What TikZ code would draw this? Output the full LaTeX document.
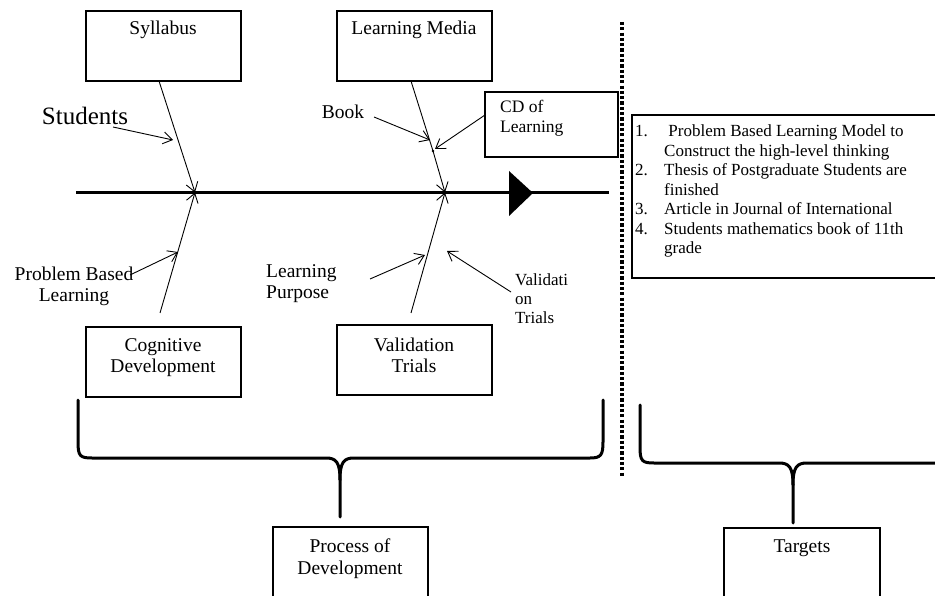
\documentclass[tikz,border=0pt]{standalone}
\usepackage{fontspec}
\setmainfont{Liberation Serif}
\usetikzlibrary{arrows.meta}
\begin{document}
\begin{tikzpicture}[x=1pt,y=-1pt,
  box/.style={draw, line width=1.1pt, inner sep=0pt},
  lbl/.style={font=\fontsize{19.5}{21}\selectfont, inner sep=0pt, align=center},
  small/.style={font=\fontsize{17}{19}\selectfont, inner sep=0pt, align=left},
  barb/.style={line width=0.9pt, -{Straight Barb[length=9pt,width=12pt,line width=0.9pt]}},
  spine/.style={line width=2.5pt},
  brace/.style={line width=3pt, line cap=round, line join=round},
  dotline/.style={line width=3.2pt, dash pattern=on 3.2pt off 2.1pt}]
\useasboundingbox (0,0) rectangle (935,596);
% ---------- boxes ----------
\node[box, minimum width=155pt, minimum height=70pt] (syl) at (163.5,46) {};
\node[lbl] (sylt) at (163,30) {Syllabus};
\node[box, minimum width=155pt, minimum height=70pt] (lm) at (414.5,46) {};
\node[lbl] (lmt) at (414,30) {Learning Media};
\node[box, minimum width=133pt, minimum height=65pt] (cd) at (551.5,124.5) {};
\node[lbl, align=left, anchor=west, font=\fontsize{17.5}{20}\selectfont] (cdt) at (500,118) {CD of\\Learning};
\node[box, minimum width=155pt, minimum height=70pt] (cog) at (163.5,362) {};
\node[lbl] (cogt) at (163,357.5) {Cognitive\\Development};
\node[box, minimum width=155pt, minimum height=70pt] (val) at (414.5,360) {};
\node[lbl] (valt) at (414,355) {Validation\\Trials};
\node[box, minimum width=155pt, minimum height=90pt] (proc) at (350.5,572) {};
\node[lbl, font=\fontsize{19.5}{22}\selectfont] (proct) at (350,559) {Process of\\Development};
\node[box, minimum width=156pt, minimum height=90pt] (targ) at (802,573) {};
\node[lbl] (targt) at (802,548) {Targets};
\node[box, minimum width=313pt, minimum height=163pt] (lst) at (788.5,196.5) {};
\node[anchor=north west, inner sep=0pt, font=\fontsize{17}{19.5}\selectfont] (lstt) at (635,123)
 {\begin{tabular}{@{}p{29pt}@{}l@{}}
 1. & \ Problem Based Learning Model to\\
    & Construct the high-level thinking\\
 2. & Thesis of Postgraduate Students are\\
    & finished\\
 3. & Article in Journal of International\\
 4. & Students mathematics book of 11th\\
    & grade
 \end{tabular}};
% ---------- free labels ----------
\node[lbl, font=\fontsize{25}{27}\selectfont] (stu) at (85,116) {Students};
\node[lbl] (book) at (343,112) {Book};
\node[lbl] (pbl) at (74,286) {Problem Based\\Learning};
\node[lbl, align=left, anchor=west] (lp) at (266,284) {Learning\\Purpose};
\node[small, anchor=west] (vt) at (515,298.5) {Validati\\on\\Trials};
% ---------- spine ----------
\coordinate (sp0) at (76,192.5);
\coordinate (sp1) at (609,192.5);
\draw[spine] (sp0) -- (sp1);
\fill (509,171) -- (533,193) -- (509,216) -- cycle;
\coordinate (j1) at (195,192.5);
\coordinate (j2) at (445,192.5);
% ---------- branches ----------
\coordinate (sylb) at (159,81);
\coordinate (lmb) at (411,81);
\coordinate (cogb) at (160,313);
\coordinate (valb) at (411,313);
\coordinate (dt) at (433,151);
\draw[barb] (sylb) -- (j1);
\draw[barb] (cogb) -- (j1);
\draw[barb] (lmb) -- (dt) -- (j2);
\fill (dt) circle (1.3pt);
\draw[barb] (valb) -- (j2);
% ---------- sub causes ----------
\coordinate (stu1) at (113,127);
\coordinate (stu2) at (173,140);
\draw[barb] (stu1) -- (stu2);
\coordinate (bk1) at (374,117);
\coordinate (bk2) at (430,140);
\draw[barb] (bk1) -- (bk2);
\coordinate (cd1) at (485,115);
\draw[barb] (cd1) -- (435,149);
\coordinate (pb1) at (130,275);
\coordinate (pb2) at (178,252);
\draw[barb] (pb1) -- (pb2);
\coordinate (lp1) at (370,279);
\coordinate (lp2) at (425,255);
\draw[barb] (lp1) -- (lp2);
\coordinate (vt1) at (511,292);
\coordinate (vt2) at (447,251);
\draw[barb] (vt1) -- (vt2);
% ---------- divider ----------
\draw[dotline] (622,22) -- (622,476);
% ---------- braces ----------
\draw[brace] (78,400) -- (78,442) .. controls (78,456) and (80,458) .. (92,458) -- (326,458)
  .. controls (336,458) and (340,462) .. (340,480) -- (340,517);
\draw[brace] (340,480) .. controls (340,462) and (344,458) .. (354,458) -- (590,458)
  .. controls (601,458) and (603,455) .. (603,442) -- (603,400);
\draw[brace] (640,405) -- (640,447) .. controls (640,461) and (642,463) .. (654,463) -- (779,463)
  .. controls (789,463) and (793,467) .. (793,485) -- (793,523);
\draw[brace] (793,485) .. controls (793,467) and (797,463) .. (807,463) -- (945,463);
\end{tikzpicture}
\end{document}
